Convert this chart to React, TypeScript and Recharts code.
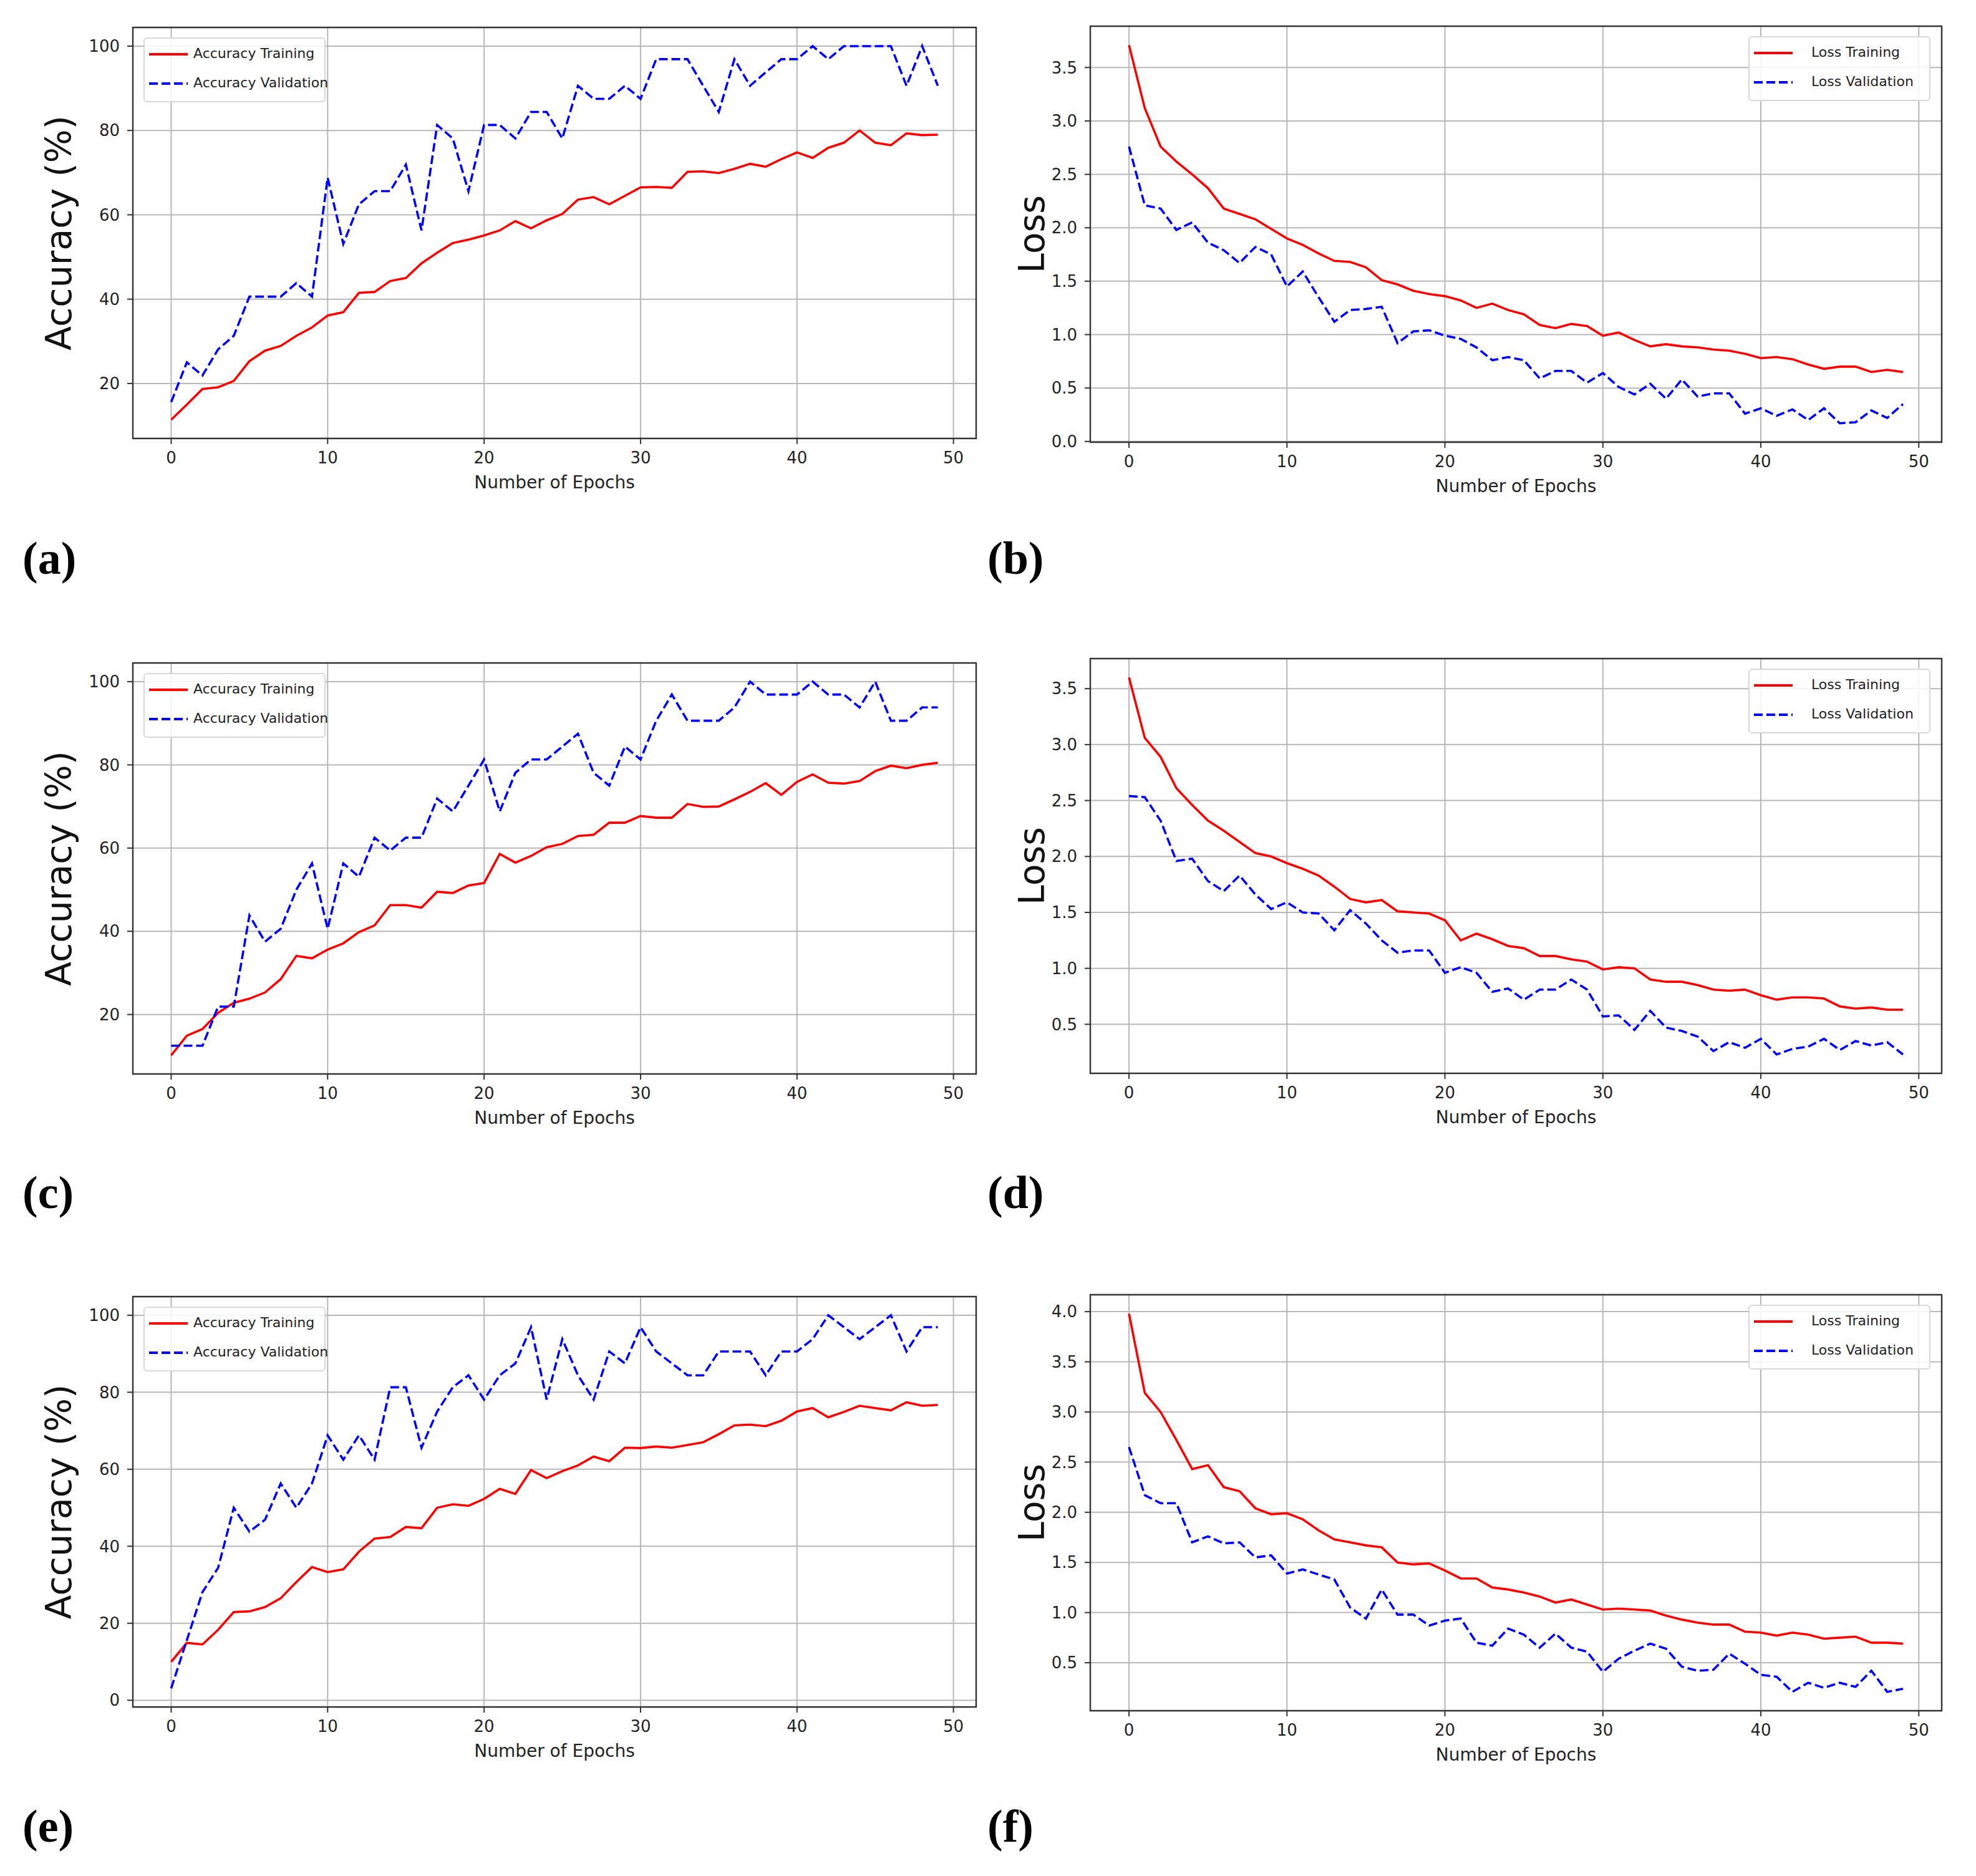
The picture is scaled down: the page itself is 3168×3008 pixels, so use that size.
import React from "react";
import {
    LineChart,
    Line,
    XAxis,
    YAxis,
    CartesianGrid,
    Legend,
    ReferenceArea,
} from "recharts";

// epochs 0..49
const epochs = [
    0, 1, 2, 3, 4, 5, 6, 7, 8, 9, 10, 11, 12, 13, 14, 15, 16, 17, 18, 19, 20, 21, 22, 23, 24,
    25, 26, 27, 28, 29, 30, 31, 32, 33, 34, 35, 36, 37, 38, 39, 40, 41, 42, 43, 44, 45, 46, 47, 48, 49,
];
const xTicks = [0, 10, 20, 30, 40, 50];

// (a) accuracy
const accTrainA = [11.4, 15.0, 18.7, 19.1, 20.6, 25.3, 27.8, 28.9, 31.3, 33.3, 36.1, 36.9, 41.5, 41.7, 44.3, 45.0, 48.5, 51.0, 53.3, 54.1, 55.1, 56.3, 58.5, 56.8, 58.7, 60.2, 63.6, 64.2, 62.5, 64.5, 66.5, 66.6, 66.4, 70.2, 70.3, 69.9, 70.9, 72.1, 71.4, 73.2, 74.8, 73.5, 75.9, 77.1, 80.0, 77.1, 76.5, 79.3, 78.9, 79.0];
const accValA = [15.6, 25.0, 21.9, 28.1, 31.3, 40.6, 40.6, 40.6, 43.8, 40.6, 68.8, 53.1, 62.5, 65.6, 65.6, 71.9, 56.3, 81.3, 78.1, 65.6, 81.3, 81.3, 78.1, 84.4, 84.4, 78.1, 90.6, 87.5, 87.5, 90.6, 87.5, 96.9, 96.9, 96.9, 90.6, 84.4, 96.9, 90.6, 93.8, 96.9, 96.9, 100, 96.9, 100, 100, 100, 100, 90.6, 100, 90.6];

// (b) loss
const lossTrainB = [3.71, 3.12, 2.76, 2.62, 2.50, 2.37, 2.18, 2.13, 2.08, 1.99, 1.90, 1.84, 1.76, 1.69, 1.68, 1.63, 1.51, 1.47, 1.41, 1.38, 1.36, 1.32, 1.25, 1.29, 1.23, 1.19, 1.09, 1.06, 1.10, 1.08, 0.99, 1.02, 0.95, 0.89, 0.91, 0.89, 0.88, 0.86, 0.85, 0.82, 0.78, 0.79, 0.77, 0.72, 0.68, 0.70, 0.70, 0.65, 0.67, 0.65];
const lossValB = [2.76, 2.21, 2.18, 1.98, 2.05, 1.86, 1.79, 1.67, 1.82, 1.75, 1.45, 1.59, 1.35, 1.12, 1.23, 1.24, 1.26, 0.92, 1.03, 1.04, 0.99, 0.96, 0.88, 0.76, 0.79, 0.76, 0.59, 0.66, 0.66, 0.55, 0.64, 0.51, 0.44, 0.54, 0.40, 0.58, 0.42, 0.45, 0.45, 0.26, 0.31, 0.24, 0.30, 0.20, 0.31, 0.17, 0.18, 0.29, 0.22, 0.35];

// (c) accuracy
const accTrainC = [10.2, 14.9, 16.5, 20.4, 22.8, 23.8, 25.3, 28.5, 34.1, 33.5, 35.6, 37.1, 39.8, 41.4, 46.3, 46.3, 45.7, 49.5, 49.2, 51.0, 51.6, 58.6, 56.5, 58.1, 60.2, 61.0, 62.9, 63.2, 66.1, 66.1, 67.7, 67.3, 67.3, 70.6, 69.9, 70.0, 71.7, 73.5, 75.6, 72.8, 75.9, 77.7, 75.7, 75.5, 76.1, 78.5, 79.8, 79.2, 80.0, 80.5];
const accValC = [12.5, 12.5, 12.5, 21.9, 21.9, 43.8, 37.5, 40.6, 50.0, 56.3, 40.6, 56.3, 53.1, 62.5, 59.4, 62.5, 62.5, 71.9, 68.8, 75.0, 81.3, 68.8, 78.1, 81.3, 81.3, 84.4, 87.5, 78.1, 75.0, 84.4, 81.3, 90.6, 96.9, 90.6, 90.6, 90.6, 93.8, 100, 96.9, 96.9, 96.9, 100, 96.9, 96.9, 93.8, 100, 90.6, 90.6, 93.8, 93.8];

// (d) loss
const lossTrainD = [3.60, 3.06, 2.89, 2.61, 2.46, 2.32, 2.23, 2.13, 2.03, 2.00, 1.94, 1.89, 1.83, 1.73, 1.62, 1.59, 1.61, 1.51, 1.50, 1.49, 1.43, 1.25, 1.31, 1.26, 1.20, 1.18, 1.11, 1.11, 1.08, 1.06, 0.99, 1.01, 1.00, 0.90, 0.88, 0.88, 0.85, 0.81, 0.80, 0.81, 0.76, 0.72, 0.74, 0.74, 0.73, 0.66, 0.64, 0.65, 0.63, 0.63];
const lossValD = [2.54, 2.53, 2.32, 1.96, 1.98, 1.78, 1.69, 1.83, 1.66, 1.53, 1.59, 1.50, 1.49, 1.34, 1.52, 1.40, 1.25, 1.14, 1.16, 1.16, 0.96, 1.01, 0.96, 0.79, 0.82, 0.72, 0.81, 0.81, 0.90, 0.81, 0.57, 0.58, 0.45, 0.62, 0.47, 0.44, 0.39, 0.26, 0.34, 0.29, 0.37, 0.23, 0.28, 0.30, 0.37, 0.27, 0.35, 0.31, 0.34, 0.23];

// (e) accuracy
const accTrainE = [10.0, 14.9, 14.5, 18.3, 22.9, 23.1, 24.2, 26.5, 30.7, 34.6, 33.3, 34.0, 38.6, 42.0, 42.4, 45.0, 44.7, 50.0, 50.9, 50.5, 52.3, 54.9, 53.6, 59.8, 57.7, 59.5, 61.0, 63.3, 62.1, 65.6, 65.5, 65.9, 65.6, 66.3, 67.0, 69.1, 71.4, 71.6, 71.2, 72.6, 75.0, 75.9, 73.5, 74.9, 76.5, 75.9, 75.3, 77.4, 76.5, 76.7];
const accValE = [3.1, 15.6, 28.1, 34.4, 50.0, 43.8, 46.9, 56.3, 50.0, 56.3, 68.8, 62.5, 68.8, 62.5, 81.3, 81.3, 65.6, 75.0, 81.3, 84.4, 78.1, 84.4, 87.5, 96.9, 78.1, 93.8, 84.4, 78.1, 90.6, 87.5, 96.9, 90.6, 87.5, 84.4, 84.4, 90.6, 90.6, 90.6, 84.4, 90.6, 90.6, 93.8, 100, 96.9, 93.8, 96.9, 100, 90.6, 96.9, 96.9];

// (f) loss
const lossTrainF = [3.98, 3.19, 3.00, 2.72, 2.43, 2.47, 2.25, 2.21, 2.04, 1.98, 1.99, 1.93, 1.82, 1.73, 1.70, 1.67, 1.65, 1.50, 1.48, 1.49, 1.42, 1.34, 1.34, 1.25, 1.23, 1.20, 1.16, 1.10, 1.13, 1.08, 1.03, 1.04, 1.03, 1.02, 0.97, 0.93, 0.90, 0.88, 0.88, 0.81, 0.80, 0.77, 0.80, 0.78, 0.74, 0.75, 0.76, 0.70, 0.70, 0.69];
const lossValF = [2.65, 2.17, 2.09, 2.09, 1.70, 1.76, 1.69, 1.70, 1.55, 1.57, 1.39, 1.43, 1.38, 1.33, 1.05, 0.94, 1.23, 0.98, 0.98, 0.87, 0.92, 0.94, 0.70, 0.67, 0.84, 0.78, 0.65, 0.79, 0.65, 0.61, 0.41, 0.54, 0.62, 0.69, 0.64, 0.46, 0.42, 0.43, 0.59, 0.49, 0.38, 0.36, 0.21, 0.30, 0.25, 0.30, 0.26, 0.42, 0.21, 0.24];

const accTicks = [20, 40, 60, 80, 100];
const accTicksE = [0, 20, 40, 60, 80, 100];
const lossTicksB = [0, 0.5, 1, 1.5, 2, 2.5, 3, 3.5];
const lossTicksD = [0.5, 1, 1.5, 2, 2.5, 3, 3.5];
const lossTicksF = [0.5, 1, 1.5, 2, 2.5, 3, 3.5, 4];

const FONT = "'DejaVu Sans', Verdana, sans-serif";
const X_DOMAIN: [number, number] = [-2.45, 51.45];
const YW = 210;
const MT = 20;
const MR = 30;
const XH = 100;

type Box = { left: number; top: number; right: number; bottom: number };

// matplotlib style 5% margin around data
function padded(a: number[], b: number[]): [number, number] {
    const lo = Math.min(...a, ...b);
    const hi = Math.max(...a, ...b);
    const m = (hi - lo) * 0.05;
    return [lo - m, hi + m];
}

type PanelProps = {
    plot: Box;
    train: number[];
    val: number[];
    trainName: string;
    valName: string;
    yTitle: string;
    yTitleX: number;
    yTicks: number[];
    decimals: number;
    legendLeft: number;
    legendTextLeft: number;
};

function Panel(p: PanelProps) {
    const rows = epochs.map((e, i) => ({ epoch: e, train: p.train[i], val: p.val[i] }));
    const yDomain = padded(p.train, p.val);
    const chartLeft = p.plot.left - YW;
    const chartTop = p.plot.top - MT;
    const w = YW + (p.plot.right - p.plot.left) + MR;
    const h = MT + (p.plot.bottom - p.plot.top) + XH;

    const xTitle = () => (
        <text
            x={(p.plot.left + p.plot.right) / 2 - chartLeft}
            y={p.plot.bottom + 80 - chartTop}
            textAnchor="middle"
            fontSize={28}
            fontFamily={FONT}
            fill="#222"
        >
            Number of Epochs
        </text>
    );
    const yx = p.yTitleX - chartLeft;
    const yy = (p.plot.top + p.plot.bottom) / 2 - chartTop;
    const yTitle = () => (
        <text
            x={yx}
            y={yy}
            transform={`rotate(-90 ${yx} ${yy})`}
            textAnchor="middle"
            fontSize={57}
            fontFamily={FONT}
            fill="#111"
        >
            {p.yTitle}
        </text>
    );

    const renderLegend = (props: any) => {
        const items = props.payload || [];
        return (
            <div
                style={{
                    position: "relative",
                    width: 292,
                    height: 104,
                    boxSizing: "border-box",
                    border: "2px solid #d8d8d8",
                    borderRadius: 6,
                    background: "rgba(255,255,255,0.85)",
                }}
            >
                {items.map((it: any, i: number) => {
                    const cy = i === 0 ? 25 : 72;
                    return (
                        <React.Fragment key={i}>
                            <svg
                                width={64}
                                height={12}
                                style={{ position: "absolute", left: 7, top: cy - 6 }}
                            >
                                <line
                                    x1={0}
                                    x2={62}
                                    y1={6}
                                    y2={6}
                                    stroke={it.color}
                                    strokeWidth={4}
                                    strokeDasharray={i === 1 ? "14 6" : undefined}
                                />
                            </svg>
                            <span
                                style={{
                                    position: "absolute",
                                    left: p.legendTextLeft,
                                    top: cy - 14,
                                    fontSize: 22,
                                    lineHeight: "26px",
                                    fontFamily: FONT,
                                    color: "#222",
                                    whiteSpace: "nowrap",
                                }}
                            >
                                {it.value}
                            </span>
                        </React.Fragment>
                    );
                })}
            </div>
        );
    };

    return (
        <div style={{ position: "absolute", left: chartLeft, top: chartTop }}>
            <LineChart
                width={w}
                height={h}
                data={rows}
                margin={{ top: MT, right: MR, left: 0, bottom: 0 }}
            >
                <CartesianGrid stroke="#b8b8b8" strokeWidth={2} fill="none" />
                <XAxis
                    dataKey="epoch"
                    type="number"
                    domain={X_DOMAIN}
                    ticks={xTicks}
                    interval={0}
                    allowDataOverflow
                    height={XH}
                    axisLine={false}
                    tickSize={9}
                    tickMargin={13}
                    tickLine={{ stroke: "#333", strokeWidth: 2 }}
                    tick={{ fill: "#222", fontSize: 26, fontFamily: FONT }}
                    label={xTitle}
                />
                <YAxis
                    type="number"
                    domain={yDomain}
                    ticks={p.yTicks}
                    interval={0}
                    allowDataOverflow
                    width={YW}
                    axisLine={false}
                    tickSize={9}
                    tickMargin={12}
                    tickLine={{ stroke: "#333", strokeWidth: 2 }}
                    tick={{ fill: "#222", fontSize: 26, fontFamily: FONT }}
                    tickFormatter={(v: number) => v.toFixed(p.decimals)}
                    label={yTitle}
                />
                <Line
                    type="linear"
                    dataKey="train"
                    name={p.trainName}
                    stroke="#ff0000"
                    strokeWidth={3.6}
                    dot={false}
                    isAnimationActive={false}
                />
                <Line
                    type="linear"
                    dataKey="val"
                    name={p.valName}
                    stroke="#0000ff"
                    strokeWidth={3.6}
                    strokeDasharray="14 6"
                    dot={false}
                    isAnimationActive={false}
                />
                <ReferenceArea
                    x1={X_DOMAIN[0]}
                    x2={X_DOMAIN[1]}
                    y1={yDomain[0]}
                    y2={yDomain[1]}
                    fill="none"
                    fillOpacity={0}
                    stroke="#333"
                    strokeWidth={2.4}
                    ifOverflow="visible"
                />
                <Legend
                    layout="horizontal"
                    verticalAlign="middle"
                    align="center"
                    content={renderLegend}
                    wrapperStyle={{
                        position: "absolute",
                        left: p.legendLeft - chartLeft,
                        top: p.plot.top + 16 - chartTop,
                        width: 292,
                        height: 104,
                    }}
                />
            </LineChart>
        </div>
    );
}

const letters = [
    { t: "(a)", x: 36, y: 920 },
    { t: "(b)", x: 1583, y: 920 },
    { t: "(c)", x: 36, y: 1937 },
    { t: "(d)", x: 1583, y: 1937 },
    { t: "(e)", x: 36, y: 2953 },
    { t: "(f)", x: 1583, y: 2953 },
];

export default function App() {
    const L = { left: 213, right: 1565 };
    const R = { left: 1748, right: 3113 };
    return (
        <div
            style={{
                position: "absolute",
                left: 0,
                top: 0,
                width: 3168,
                height: 3008,
                background: "#fff",
                overflow: "hidden",
            }}
        >
            <Panel
                plot={{ ...L, top: 44, bottom: 703 }}
                train={accTrainA}
                val={accValA}
                trainName="Accuracy Training"
                valName="Accuracy Validation"
                yTitle="Accuracy (%)"
                yTitleX={114}
                yTicks={accTicks}
                decimals={0}
                legendLeft={230}
                legendTextLeft={78}
            />
            <Panel
                plot={{ ...R, top: 42, bottom: 709 }}
                train={lossTrainB}
                val={lossValB}
                trainName="Loss Training"
                valName="Loss Validation"
                yTitle="Loss"
                yTitleX={1674}
                yTicks={lossTicksB}
                decimals={1}
                legendLeft={2803}
                legendTextLeft={99}
            />
            <Panel
                plot={{ ...L, top: 1063, bottom: 1722 }}
                train={accTrainC}
                val={accValC}
                trainName="Accuracy Training"
                valName="Accuracy Validation"
                yTitle="Accuracy (%)"
                yTitleX={114}
                yTicks={accTicks}
                decimals={0}
                legendLeft={230}
                legendTextLeft={78}
            />
            <Panel
                plot={{ ...R, top: 1056, bottom: 1721 }}
                train={lossTrainD}
                val={lossValD}
                trainName="Loss Training"
                valName="Loss Validation"
                yTitle="Loss"
                yTitleX={1674}
                yTicks={lossTicksD}
                decimals={1}
                legendLeft={2803}
                legendTextLeft={99}
            />
            <Panel
                plot={{ ...L, top: 2079, bottom: 2737 }}
                train={accTrainE}
                val={accValE}
                trainName="Accuracy Training"
                valName="Accuracy Validation"
                yTitle="Accuracy (%)"
                yTitleX={114}
                yTicks={accTicksE}
                decimals={0}
                legendLeft={230}
                legendTextLeft={78}
            />
            <Panel
                plot={{ ...R, top: 2076, bottom: 2743 }}
                train={lossTrainF}
                val={lossValF}
                trainName="Loss Training"
                valName="Loss Validation"
                yTitle="Loss"
                yTitleX={1674}
                yTicks={lossTicksF}
                decimals={1}
                legendLeft={2803}
                legendTextLeft={99}
            />
            <svg
                width={3168}
                height={3008}
                style={{ position: "absolute", left: 0, top: 0, pointerEvents: "none" }}
            >
                {letters.map((l) => (
                    <text
                        key={l.t}
                        x={l.x}
                        y={l.y}
                        fontSize={74}
                        fontWeight="bold"
                        fontFamily="'Liberation Serif', 'DejaVu Serif', serif"
                        fill="#000"
                    >
                        {l.t}
                    </text>
                ))}
            </svg>
        </div>
    );
}
